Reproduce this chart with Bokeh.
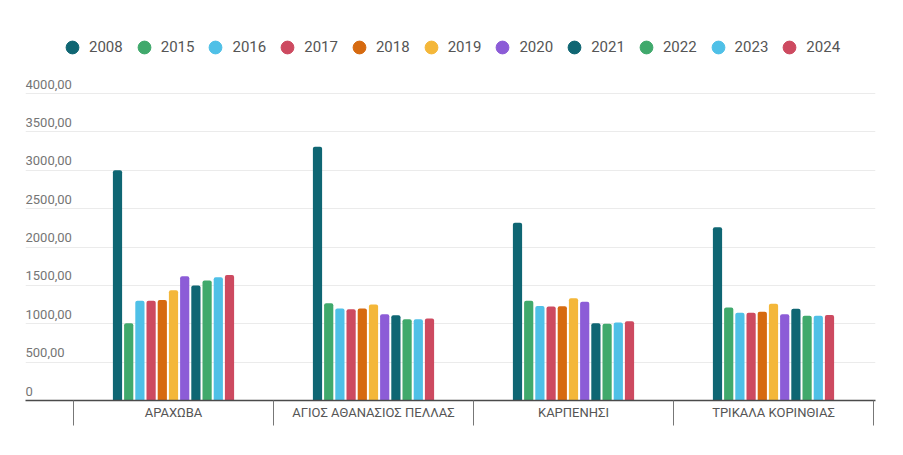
import numpy as np
from bokeh.plotting import figure
from bokeh.models import (Range1d, FixedTicker, Legend, LegendItem, ColumnDataSource)
from bokeh.transform import dodge
from bokeh.core.properties import value
from bokeh.embed import file_html
from bokeh.resources import INLINE

# ---- data ----
groups = ["ΑΡΑΧΩΒΑ", "ΑΓΙΟΣ ΑΘΑΝΑΣΙΟΣ ΠΕΛΛΑΣ", "ΚΑΡΠΕΝΗΣΙ", "ΤΡΙΚΑΛΑ ΚΟΡΙΝΘΙΑΣ"]
years = ["2008", "2015", "2016", "2017", "2018", "2019", "2020", "2021", "2022", "2023", "2024"]
arachova = [3000, 1005, 1300, 1300, 1310, 1435, 1620, 1500, 1565, 1605, 1635]
agios_athanasios = [3305, 1268, 1200, 1190, 1200, 1252, 1125, 1112, 1058, 1058, 1068]
karpenisi = [2315, 1300, 1230, 1225, 1228, 1333, 1287, 1008, 1000, 1015, 1033]
trikala = [2258, 1212, 1143, 1142, 1155, 1260, 1125, 1195, 1103, 1103, 1115]
colors = ["#0f6673", "#40a96c", "#4fc0e7", "#cd4a60", "#d66a10", "#f4b739",
          "#8c5cd7", "#0f6673", "#40a96c", "#4fc0e7", "#cd4a60"]
y_ticks = [0, 500, 1000, 1500, 2000, 2500, 3000, 3500, 4000]
y_labels = ["0", "500,00", "1000,00", "1500,00", "2000,00", "2500,00",
            "3000,00", "3500,00", "4000,00"]

FONT = "Roboto"

p = figure(width=885, height=439, output_backend="svg", toolbar_location=None,
           x_range=Range1d(-0.24, 4.01), y_range=Range1d(0, 4821),
           min_border_left=25, min_border_right=10, min_border_top=30,
           min_border_bottom=39)
p.outline_line_color = None
p.background_fill_color = "white"

# grid
p.xgrid.visible = False
p.ygrid.ticker = FixedTicker(ticks=y_ticks)
p.ygrid.grid_line_color = "#ebebeb"
p.ygrid.grid_line_width = 1
p.yaxis.visible = False

# bars
centers = list(np.arange(len(groups)) + 0.5)
values_by_group = [arachova, agios_athanasios, karpenisi, trikala]
slot = 0.056
bar_w = 0.046
n = len(years)
items = []
for j, yr in enumerate(years):
    src = ColumnDataSource(dict(center=centers,
                                top=[vals[j] for vals in values_by_group]))
    off = (j - (n - 1) / 2) * slot
    xpos = dodge("center", off, range=p.x_range)
    p.vbar(x=xpos, top="top", bottom=0, width=bar_w, source=src,
           fill_color=colors[j], line_color=None, border_radius=(2, 2, 0, 0))
    # hidden circle renderer used only for the legend swatch
    r = p.scatter(x=xpos, y="top", source=src, marker="circle",
                  fill_color=colors[j], line_color=colors[j], visible=False)
    items.append(LegendItem(label=yr, renderers=[r]))

# y labels (inside, left aligned above grid lines)
p.text(x=[p.x_range.start] * len(y_ticks), y=y_ticks, text=y_labels,
       text_font=value(FONT), text_font_size="13px", text_color="#757575",
       text_align="left", text_baseline="bottom", y_offset=-5)

# x axis
xa = p.xaxis[0]
xa.ticker = FixedTicker(ticks=centers, minor_ticks=list(range(len(groups) + 1)))
xa.major_label_overrides = {c: g for c, g in zip(centers, groups)}
xa.major_tick_line_color = None
xa.major_tick_out = 0
xa.major_tick_in = 0
xa.minor_tick_out = 25
xa.minor_tick_in = 0
xa.minor_tick_line_color = "#777777"
xa.minor_tick_line_width = 1
xa.axis_line_color = "#4a4a4a"
xa.axis_line_width = 1.5
xa.major_label_text_font = FONT
xa.major_label_text_font_size = "13px"
xa.major_label_text_color = "#555555"
xa.major_label_standoff = -21

legend = Legend(items=items, orientation="horizontal", location=(31, 337),
                glyph_width=32, glyph_height=32, label_standoff=1, spacing=5,
                padding=0, margin=0, border_line_color=None,
                background_fill_alpha=0,
                label_text_font=FONT, label_text_font_size="15px",
                label_text_color="#555555")
p.add_layout(legend, "center")

open("out.html", "w").write(file_html(p, INLINE))
